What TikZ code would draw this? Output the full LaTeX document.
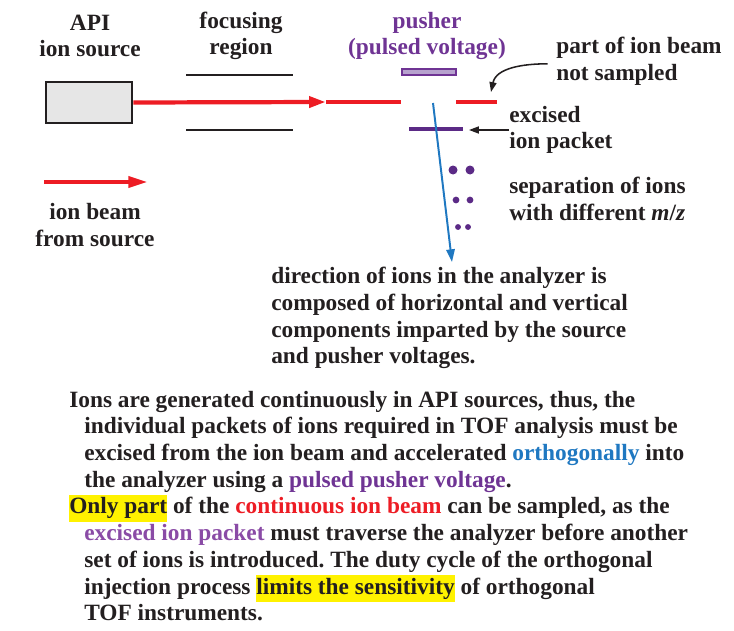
\documentclass[tikz,border=0pt]{standalone}
\usepackage{fontspec}
\setmainfont{Liberation Serif}
\usetikzlibrary{arrows.meta}
\definecolor{beamred}{HTML}{ED1C24}
\definecolor{pushpurple}{HTML}{6F3494}
\definecolor{pushfill}{HTML}{B7A2CE}
\definecolor{packetpurple}{HTML}{5B2A86}
\definecolor{packettext}{HTML}{8A4BA6}
\definecolor{flightblue}{HTML}{1F78C1}
\definecolor{inkdark}{HTML}{231F20}
\definecolor{srcgray}{HTML}{E6E6E6}
\definecolor{hlyellow}{HTML}{FFF200}
\newcommand{\hlmark}[1]{{\setlength{\fboxsep}{0pt}\colorbox{hlyellow}{\strut #1}}}
\newcommand{\hang}{\hspace*{10.7pt}}
\frenchspacing
\begin{document}
\begin{tikzpicture}[x=0.025cm,y=-0.025cm,
  every node/.style={font=\fontsize{16.6}{19}\selectfont\bfseries,text=inkdark,inner sep=0pt},
  beam/.style={beamred,line width=3pt},
  plate/.style={inkdark,line width=1.5pt},
  pointer/.style={inkdark,line width=1.1pt,-{Triangle[length=7pt,width=5pt]}}]
\useasboundingbox (0,0) rectangle (734,630);
\node[align=center] (api) at (90,36) {API\\ion source};
\node[align=center] (focus) at (241,36) {focusing\\region};
\node[align=center,text=pushpurple] (pusher) at (427,36) {pusher\\(pulsed voltage)};
\node[align=left,anchor=west] (notsampled) at (556,61) {part of ion beam\\not sampled};
\node[align=left,anchor=west] (excised) at (509,130) {excised\\ion packet};
\node[align=left,anchor=west] (separation) at (509,199) {separation of ions\\with different \textit{m}/\textit{z}};
\node[align=center] (legend) at (95,225) {ion beam\\from source};
\node[align=left,anchor=west] (direction) at (271,318) {direction of ions in the analyzer is\\composed of horizontal and vertical\\components imparted by the source\\and pusher voltages.};
\node[draw=inkdark,fill=srcgray,line width=1.8pt,minimum width=2.15cm,minimum height=1.025cm] (src) at (89,102.5) {};
\node[draw=pushpurple,fill=pushfill,line width=1pt,minimum width=1.35cm,minimum height=0.16cm] (pushplate) at (429,72) {};
\draw[plate] (186,75) -- (293,75);
\draw[plate] (186,130) -- (293,130);
\coordinate (beamtip) at (326,102);
\coordinate (gapstart) at (401,102);
\coordinate (restA) at (456,102);
\coordinate (restB) at (497,102);
\coordinate (missed) at (491,92);
\coordinate (pktL) at (409,129);
\coordinate (pktR) at (463,129);
\coordinate (pktpoint) at (469,129);
\coordinate (flightstart) at (433,103);
\coordinate (flightend) at (452,262);
\coordinate (legendA) at (44,182);
\coordinate (legendB) at (148,182);
\draw[beam,-{Triangle[length=12pt,width=7.6pt]}] (src.east) -- (beamtip);
\draw[beam] (beamtip) -- (gapstart);
\draw[beam] (restA) -- (restB);
\draw[beam,-{Triangle[length=14pt,width=7.6pt]}] (legendA) -- (legendB);
\draw[packetpurple,line width=3pt] (pktL) -- (pktR);
\draw[flightblue,line width=1.4pt,-{Triangle[length=9pt,width=6pt]}] (flightstart) -- (flightend);
\draw[pointer] ([xshift=-6pt,yshift=-2pt]notsampled.west) to[out=180,in=78] (missed);
\draw[pointer] (excised.west) -- (excised.west -| pktpoint);
\fill[packetpurple] (453,170) circle (3.2pt) (470,170) circle (3.2pt);
\fill[packetpurple] (456,200) circle (2.4pt) (470,200) circle (2.4pt);
\fill[packetpurple] (458,227) circle (2.1pt) (468,227) circle (2.1pt);
\node[align=left,anchor=west] (body) at (69,506) {Ions are generated continuously in API sources, thus, the\\
\hang individual packets of ions required in TOF analysis must be\\
\hang excised from the ion beam and accelerated {\color{flightblue}orthogonally} into\\
\hang the analyzer using a {\color{pushpurple}pulsed pusher voltage}.\\
\hlmark{Only part} of the {\color{beamred}continuous ion beam} can be sampled, as the\\
\hang {\color{packettext}excised ion packet} must traverse the analyzer before another\\
\hang set of ions is introduced. The duty cycle of the orthogonal\\
\hang injection process \hlmark{limits the sensitivity} of orthogonal\\
\hang TOF instruments.};
\end{tikzpicture}
\end{document}
